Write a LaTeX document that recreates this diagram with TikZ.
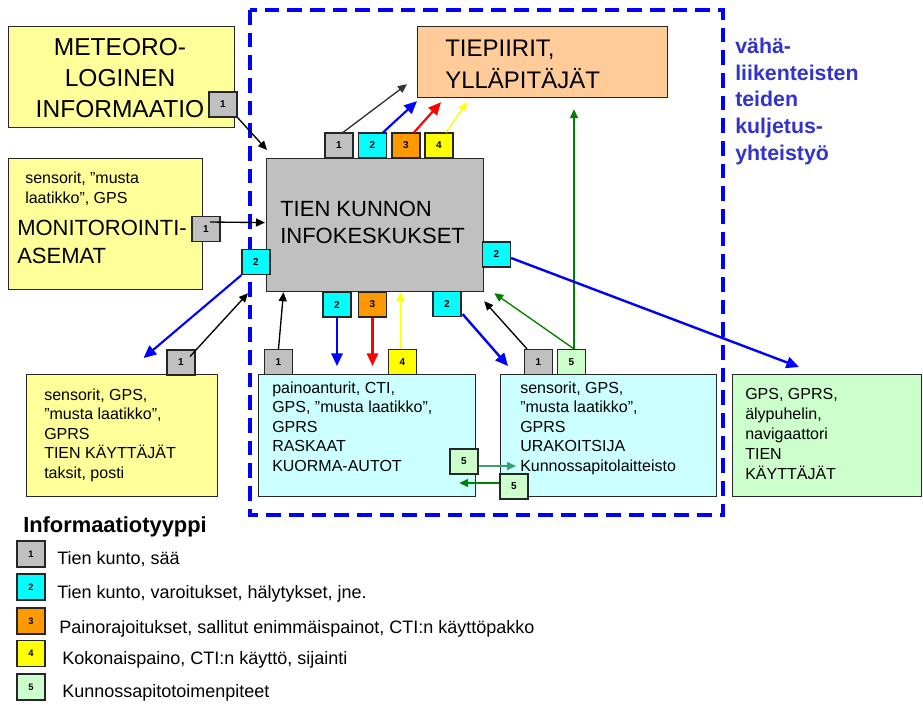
\documentclass[tikz,border=0pt]{standalone}
\usepackage{fontspec}
\setmainfont{Liberation Sans}
\usetikzlibrary{arrows.meta,calc}
\definecolor{cyel}{HTML}{FFFF99}
\definecolor{ccyan}{HTML}{CCFFFF}
\definecolor{cgreen}{HTML}{CCFFCC}
\definecolor{corange}{HTML}{FFCC99}
\definecolor{cgray}{HTML}{C0C0C0}
\definecolor{bone}{HTML}{C0C0C0}
\definecolor{btwo}{HTML}{00FFFF}
\definecolor{bthree}{HTML}{FF9900}
\definecolor{bfour}{HTML}{FFFF00}
\definecolor{bfive}{HTML}{CCFFCC}
\definecolor{cside}{HTML}{3333CC}
\definecolor{cgrn}{HTML}{008000}
\definecolor{clgrn}{HTML}{3A9E6E}
\definecolor{cdark}{HTML}{333333}
\begin{document}
\begin{tikzpicture}[x=0.75pt,y=-0.75pt,
  box/.style={draw=black!85, line width=0.9pt, inner sep=0, anchor=north west},
  sz/.style 2 args={minimum width=#1*0.75pt, minimum height=#2*0.75pt},
  badge/.style={draw=black!85, line width=0.9pt, inner sep=0, minimum width=21pt, minimum height=18.75pt, font=\fontsize{7.5}{8}\selectfont\bfseries},
  lbadge/.style={badge, minimum width=21pt, minimum height=19.5pt, font=\fontsize{7}{8}\selectfont\bfseries},
  txt/.style={inner sep=0, anchor=base west, align=left},
  smallf/.style={font=\fontsize{12}{14.6}\selectfont},
  legf/.style={font=\fontsize{13.5}{16}\selectfont},
  ar/.style={-{Triangle[length=6.75pt,width=6pt]}, line width=1pt},
  arb/.style={-{Triangle[length=9.5pt,width=8.5pt]}, line width=1.8pt},
  frame/.style={draw=blue, line width=2.3pt, dash pattern=on 11pt off 6pt}
]
\useasboundingbox (0,0) rectangle (923,704);

% dashed frame
\draw[frame] (250,10) rectangle (723,515);

% main boxes
\node[box, fill=cyel, sz={226}{101}] (met) at (8,26) {};
\node[box, fill=cyel, sz={194}{131}] (mon) at (8,158) {};
\node[box, fill=cgray, sz={217}{133}] (gray) at (266,158) {};
\node[box, fill=corange, sz={250}{71}] (tiep) at (417,26) {};
\node[box, fill=cyel, sz={191}{122}] (lb) at (26,374) {};
\node[box, fill=ccyan, sz={217}{122}] (mid) at (258,374) {};
\node[box, fill=ccyan, sz={216}{122}] (rc) at (500,374) {};
\node[box, fill=cgreen, sz={189}{122}] (gb) at (732,374) {};

% texts (base anchor = baseline of the last line)
\node[txt, anchor=base, align=center, font=\fontsize{18.4}{22.9}\selectfont] (metT) at (120,117) {METEORO-\\LOGINEN\\INFORMAATIO};
\node[txt, font=\fontsize{12}{14.3}\selectfont] (monS) at (25,203) {sensorit, ”musta\\laatikko”, GPS};
\node[txt, font=\fontsize{16.5}{21}\selectfont] (monT) at (17,263) {MONITOROINTI-\\ASEMAT};
\node[txt, font=\fontsize{16.5}{20.25}\selectfont] (grayT) at (280,243) {TIEN KUNNON\\INFOKESKUKSET};
\node[txt, font=\fontsize{18}{24}\selectfont] (tiepT) at (445,88) {TIEPIIRIT,\\YLLÄPITÄJÄT};
\node[txt, font=\fontsize{16}{20}\selectfont\bfseries, text=cside] (side) at (735,160) {vähä-\\liikenteisten\\teiden\\kuljetus-\\yhteistyö};
\node[txt, smallf] (lbT) at (44,478) {sensorit, GPS,\\”musta laatikko”,\\GPRS\\TIEN KÄYTTÄJÄT\\taksit, posti};
\node[txt, smallf] (midT) at (272,471) {painoanturit, CTI,\\GPS, ”musta laatikko”,\\GPRS\\RASKAAT\\KUORMA-AUTOT};
\node[txt, smallf] (rcT) at (520,471) {sensorit, GPS,\\”musta laatikko”,\\GPRS\\URAKOITSIJA\\Kunnossapitolaitteisto};
\node[txt, font=\fontsize{12}{15}\selectfont] (gbT) at (745,479) {GPS, GPRS,\\älypuhelin,\\navigaattori\\TIEN\\KÄYTTÄJÄT};

% badges
\node[badge, fill=bone] (bm) at (223,104.5) {1};
\node[badge, fill=bone] (bmon) at (206,229) {1};
\node[badge, fill=btwo] (bl2) at (256,262) {2};
\node[badge, fill=bone] (bt1) at (339,145.5) {1};
\node[badge, fill=btwo] (bt2) at (372.5,145.5) {2};
\node[badge, fill=bthree] (bt3) at (406,145.5) {3};
\node[badge, fill=bfour] (bt4) at (439,145.5) {4};
\node[badge, fill=btwo] (bb2) at (337,304.5) {2};
\node[badge, fill=bthree] (bb3) at (372.5,304.5) {3};
\node[badge, fill=btwo] (bb2r) at (447,304) {2};
\node[badge, fill=btwo] (br2) at (496.5,254.5) {2};
\node[badge, fill=bone] (blb1) at (181,362.5) {1};
\node[badge, fill=bone] (bm1) at (278.5,362) {1};
\node[badge, fill=bfour] (bm4) at (402.5,362) {4};
\node[badge, fill=bone] (br1) at (538.5,362) {1};
\node[badge, fill=bfive] (br5) at (571.5,362) {5};
\node[badge, fill=bfive] (bm5) at (464,461.5) {5};
\node[badge, fill=bfive] (brr5) at (514,486.5) {5};

% connectors
\draw[ar] (bm.south east) -- ($(gray.north west)+(1,-8)$);
\draw[ar] ($(bmon.center)+(4,-7)$) -- ($(gray.west)+(-1,-2.5)$);
\draw[arb, draw=blue, line width=1.6pt] (bl2.south west) -- ($(lb.north)+(21.5,-16)$);
\draw[ar] ($(blb1.center)+(9,-6)$) -- ($(gray.south west)+(-18,1)$);
\draw[ar, draw=cdark] ($(bt1.north)+(4,0)$) -- ($(tiep.south west)+(-10,-14)$);
\draw[arb, draw=blue, line width=1.6pt] ($(bt2.north)+(10.5,0)$) -- ($(tiep.south west)+(0,3)$);
\draw[arb, draw=red, line width=1.6pt] ($(bt3.north)+(8,0)$) -- ($(tiep.south west)+(24,4)$);
\draw[ar, draw=bfour] ($(bt4.north)+(7,0)$) -- ($(tiep.south west)+(50,4)$);
\coordinate (g0) at ($(br5.north)+(2.5,0)$);
\draw[ar, draw=cgrn] (g0) -- (g0 |- {$(tiep.south)+(0,11)$});
\draw[ar, draw=cgrn] (g0) -- ($(gray.south east)+(10,1)$);
\draw[ar] ($(br1.north)+(-11.5,0)$) -- ($(gray.south east)+(0,9)$);
\draw[arb, draw=blue, line width=1.6pt] (bb2.south) -- ($(bb2.south |- mid.north)+(0,-8)$);
\draw[arb, draw=red, line width=1.6pt] (bb3.south) -- ($(bb3.south |- mid.north)+(0,-8)$);
\draw[ar, draw=bfour] ($(bm4.north)+(-2,0)$) -- ($(bm4.north |- gray.south)+(-2,0)$);
\draw[ar] (bm1.north) -- ($(bm1.north |- gray.south)+(5,0)$);
\draw[arb, draw=blue] ($(bb2r.south east)+(1,-3)$) -- ($(rc.north west)+(8,-8)$);
\draw[arb, draw=blue] ($(br2.east)+(0,3.5)$) -- ($(gb.north west)+(67,-7)$);
\draw[ar, draw=clgrn] ($(bm5.east)+(0,4.5)$) -- ($(rc.west |- bm5.east)+(16,4.5)$);
\draw[ar, draw=cgrn] ($(brr5.west)+(0,-3.5)$) -- ($(mid.east |- brr5.west)+(-17,-3.5)$);

% legend
\node[txt, font=\fontsize{16.4}{19}\selectfont\bfseries] (legT) at (23,532) {Informaatiotyyppi};
\node[lbadge, fill=bone] (l1) at (31,554) {1};
\node[lbadge, fill=btwo] (l2) at (31,587) {2};
\node[lbadge, fill=bthree] (l3) at (31,621) {3};
\node[lbadge, fill=bfour] (l4) at (31,653.5) {4};
\node[lbadge, fill=bfive] (l5) at (31,687) {5};
\node[txt, legf] (l1T) at (57,564) {Tien kunto, sää};
\node[txt, legf] (l2T) at (57,598) {Tien kunto, varoitukset, hälytykset, jne.};
\node[txt, legf] (l3T) at (59,633) {Painorajoitukset, sallitut enimmäispainot, CTI:n käyttöpakko};
\node[txt, legf] (l4T) at (62,664) {Kokonaispaino, CTI:n käyttö, sijainti};
\node[txt, legf] (l5T) at (62,697) {Kunnossapitotoimenpiteet};
\end{tikzpicture}
\end{document}
